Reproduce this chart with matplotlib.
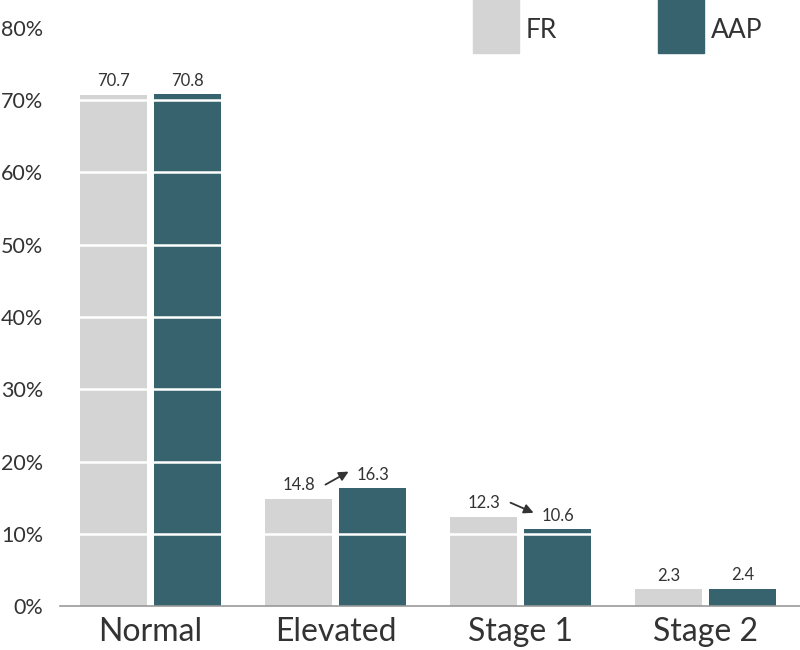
import matplotlib.pyplot as plt
from matplotlib.patches import Rectangle
import numpy as np

plt.rcParams['font.family'] = ['Lato', 'DejaVu Sans']

# data
categories = ['Normal', 'Elevated', 'Stage 1', 'Stage 2']
fr_vals = [70.7, 14.8, 12.3, 2.3]
aap_vals = [70.8, 16.3, 10.6, 2.4]
series_names = ['FR', 'AAP']
yticks = [0, 10, 20, 30, 40, 50, 60, 70, 80]

fr_col = '#d4d4d4'
aap_col = '#36636e'
txt_col = '#333333'

fig = plt.figure(figsize=(8, 6.5), dpi=100)
ax = fig.add_axes([0.075, 1 - 606 / 650, 0.925, (606 - 28) / 650])

x = np.arange(len(categories))
w = 0.36
off = 0.2
ax.bar(x - off, fr_vals, w, color=fr_col, zorder=2)
ax.bar(x + off, aap_vals, w, color=aap_col, zorder=2)

# white grid lines over the bars
for t in yticks[1:-1]:
    ax.axhline(t, color='white', lw=1.8, zorder=3)

for i in range(len(categories)):
    ax.text(x[i] - off, fr_vals[i] + 1.9, f'{fr_vals[i]}', ha='center', va='center',
            fontsize=12, color=txt_col)
    ax.text(x[i] + off, aap_vals[i] + 1.9, f'{aap_vals[i]}', ha='center', va='center',
            fontsize=12, color=txt_col)

# arrows showing the change
for i in [1, 2]:
    ax.annotate('', xy=(x[i] + off - 0.13, aap_vals[i] + 2.3),
                xytext=(x[i] - off + 0.145, fr_vals[i] + 2.0),
                arrowprops=dict(arrowstyle='-|>', color=txt_col, lw=1.3,
                                mutation_scale=14, shrinkA=0, shrinkB=0),
                zorder=4)

ax.set_xlim(-0.49, 3.51)
ax.set_ylim(0, 80)
ax.set_yticks(yticks)
ax.set_yticklabels([f'{t}%' for t in yticks], fontsize=15.5, color=txt_col)
ax.set_xticks(x)
ax.set_xticklabels(categories, fontsize=23, color=txt_col)
ax.tick_params(axis='both', length=0)
ax.tick_params(axis='y', pad=12)
ax.tick_params(axis='x', pad=8)
for s in ['top', 'right', 'left']:
    ax.spines[s].set_visible(False)
ax.spines['bottom'].set_color('#999999')
ax.spines['bottom'].set_linewidth(1.2)

# legend drawn as big squares at the top
for name, col, px in [(series_names[0], fr_col, 473), (series_names[1], aap_col, 658)]:
    fig.add_artist(Rectangle((px / 800, 1 - 53 / 650), 46 / 800, 60 / 650,
                             transform=fig.transFigure, color=col, clip_on=False))
    fig.text((px + 53) / 800, 1 - 30 / 650, name, fontsize=19, color=txt_col,
             ha='left', va='center')

fig.savefig('out.png', dpi=100)
